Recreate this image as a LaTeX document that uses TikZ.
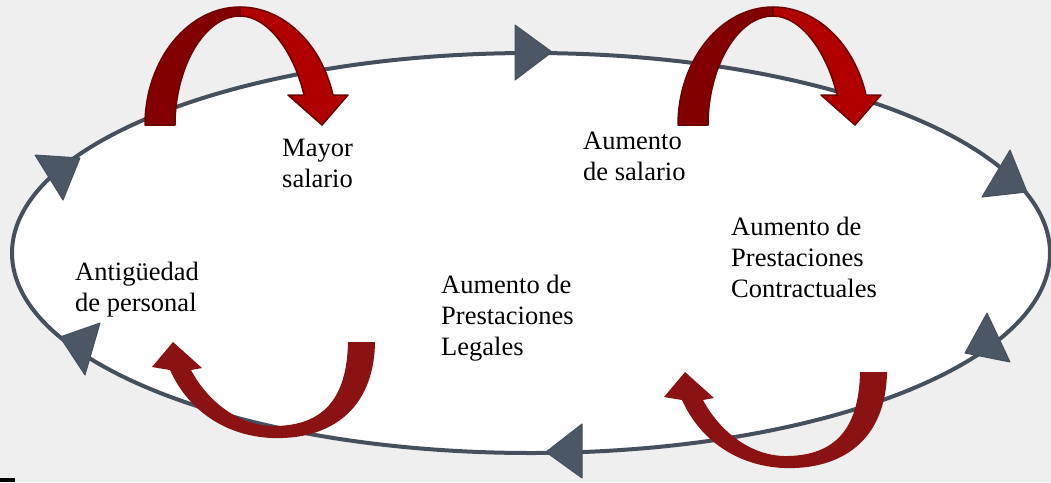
\documentclass[tikz,border=0pt]{standalone}
\usepackage{xcolor}
\usepackage{fontspec}
\setmainfont{Liberation Serif}
\usepackage{tikz}
\usetikzlibrary{calc}
\usetikzlibrary{shapes}
\usetikzlibrary{positioning}
\usetikzlibrary{shapes.geometric}
\tikzset{>=latex}
\definecolor{fondo}{HTML}{EFEFEF}
\definecolor{pizarra}{HTML}{46505C}
\definecolor{punta}{HTML}{4C5766}
\definecolor{rojoosc}{HTML}{820000}
\definecolor{rojo}{HTML}{B00000}
\definecolor{borde}{HTML}{6E0000}
\definecolor{granate}{HTML}{8A1212}
\tikzstyle{lbl} = [anchor=base west, align=left, inner sep=0pt, font=\fontsize{26.5}{31}\selectfont]
\tikzstyle{tri} = [fill=punta, draw=pizarra, line width=1pt, line join=round]
\tikzstyle{ida} = [draw=borde, line width=1.5pt, line join=round]

\begin{document}
\begin{tikzpicture}[x=1pt, y=-1pt]
\useasboundingbox (0,0) rectangle (1051,482);
\fill [fondo] (0,0) rectangle (1051,482);
\fill [black] (0,478) rectangle (15,482);
\node [ellipse, draw=pizarra, fill=white, line width=4pt, inner sep=0pt,
       minimum width=1038pt, minimum height=400pt] (ciclo) at (531,253) {};
% puntas sobre el ciclo
\filldraw [tri] (515,25) -- (515,80) -- (552,52) -- cycle;
\filldraw [tri] (582,424) -- (582,478) -- (546,452) -- cycle;
\filldraw [tri] (35,155) -- (80,158) -- (63,200) -- cycle;
\filldraw [tri] (60,337) -- (100,323) -- (85,375) -- cycle;
\filldraw [tri] (1010,150) -- (982,197) -- (1027,192) -- cycle;
\filldraw [tri] (987,313) -- (965,353) -- (1010,362) -- cycle;
% flechas rojas de arriba
\filldraw [ida, fill=rojoosc] (145,125) .. controls (145,60) and (188,7) .. (240,7)
  -- (240,16) .. controls (204,16) and (175,68) .. (175,125) -- cycle;
\filldraw [ida, fill=rojo] (240,7) .. controls (283,7) and (321,43) .. (333,95)
  -- (348,95) -- (322,125) -- (288,95) -- (304,95)
  .. controls (294,52) and (268,16) .. (240,16) -- cycle;
\filldraw [ida, fill=rojoosc] (678,125) .. controls (678,60) and (721,7) .. (773,7)
  -- (773,16) .. controls (737,16) and (708,68) .. (708,125) -- cycle;
\filldraw [ida, fill=rojo] (773,7) .. controls (816,7) and (854,43) .. (866,95)
  -- (881,95) -- (855,125) -- (821,95) -- (837,95)
  .. controls (827,52) and (801,16) .. (773,16) -- cycle;
% flechas rojas de abajo
\fill [granate] (375,342) .. controls (374,410) and (330,440) .. (272,438)
  .. controls (225,436) and (188,410) .. (170,370)
  -- (152,367) -- (173,342) -- (202,368) -- (191,370)
  .. controls (208,402) and (240,427) .. (276,426)
  .. controls (322,425) and (347,400) .. (348,342) -- cycle;
\fill [granate] (887,372) .. controls (886,440) and (842,470) .. (784,468)
  .. controls (737,466) and (700,440) .. (682,400)
  -- (664,397) -- (685,372) -- (714,398) -- (703,400)
  .. controls (720,432) and (752,457) .. (788,456)
  .. controls (834,455) and (859,430) .. (860,372) -- cycle;
% textos
\node [lbl] (mayor) at (282,187) {Mayor\\salario};
\node [lbl] (aumento) at (583,180) {Aumento\\de salario};
\node [lbl] (contract) at (731,297) {Aumento de\\Prestaciones\\Contractuales};
\node [lbl] (antig) at (75,311) {Antigüedad\\de personal};
\node [lbl] (legales) at (441,355) {Aumento de\\Prestaciones\\Legales};
\end{tikzpicture}
\end{document}
